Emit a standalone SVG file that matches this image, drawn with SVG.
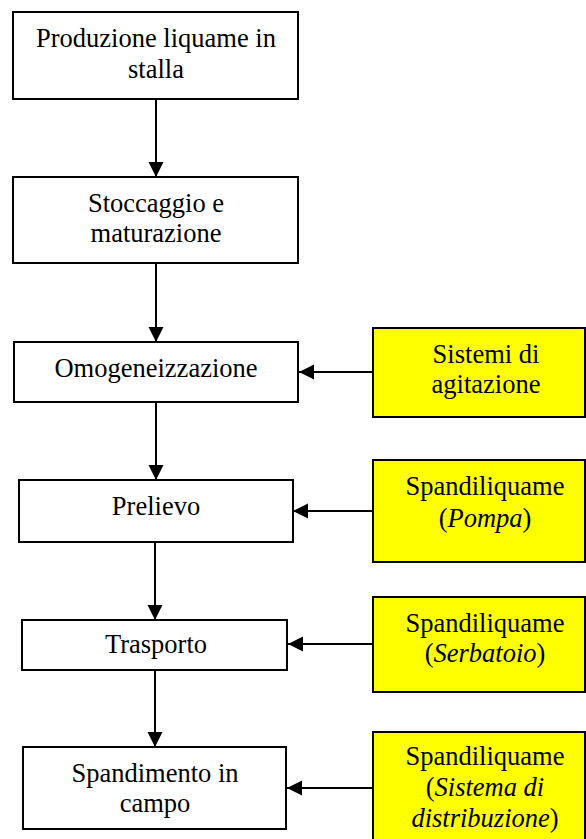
<svg xmlns="http://www.w3.org/2000/svg" width="586" height="839" viewBox="0 0 586 839">
<style>
  .box { fill: #ffffff; stroke: #000000; stroke-width: 2; }
  .ybox { fill: #ffff00; stroke: #000000; stroke-width: 2; }
  .t { font-size: 26.5px; fill: #000000; text-anchor: middle; }
  .i { font-style: italic; }
  .c { stroke: #000000; stroke-width: 2; fill: none; marker-end: url(#ah); }
</style>
<defs>
  <marker id="ah" markerUnits="userSpaceOnUse" markerWidth="16" markerHeight="16" viewBox="0 0 16 16" refX="15" refY="8" orient="auto">
    <path d="M0,0.5 L15,8 L0,15.5 Z" fill="#000000"/>
  </marker>
</defs>
<rect width="586" height="839" fill="#ffffff"/>

<g font-family="'Liberation Serif', 'Times New Roman', 'DejaVu Serif', serif">
<g id="n1">
  <rect class="box" x="13" y="12" width="285" height="87"/>
  <text class="t" x="156" y="47">Produzione liquame in</text>
  <text class="t" x="156" y="78">stalla</text>
</g>
<g id="n2">
  <rect class="box" x="13" y="177" width="285" height="86"/>
  <text class="t" x="156" y="212">Stoccaggio e</text>
  <text class="t" x="156" y="242">maturazione</text>
</g>
<g id="n3">
  <rect class="box" x="14" y="342" width="284" height="60"/>
  <text class="t" x="156" y="377">Omogeneizzazione</text>
</g>
<g id="n4">
  <rect class="box" x="19" y="480" width="274" height="62"/>
  <text class="t" x="156" y="515">Prelievo</text>
</g>
<g id="n5">
  <rect class="box" x="22" y="620" width="265" height="50"/>
  <text class="t" x="156" y="653">Trasporto</text>
</g>
<g id="n6">
  <rect class="box" x="23" y="747" width="263" height="82"/>
  <text class="t" x="155" y="782">Spandimento in</text>
  <text class="t" x="155" y="812">campo</text>
</g>

<g id="y1">
  <rect class="ybox" x="373" y="328" width="212" height="89"/>
  <text class="t" x="486" y="363">Sistemi di</text>
  <text class="t" x="486" y="393">agitazione</text>
</g>
<g id="y2">
  <rect class="ybox" x="373" y="460" width="212" height="102"/>
  <text class="t" x="485" y="495">Spandiliquame</text>
  <text class="t" x="485" y="527">(<tspan class="i">Pompa</tspan>)</text>
</g>
<g id="y3">
  <rect class="ybox" x="373" y="597" width="212" height="95"/>
  <text class="t" x="485" y="632">Spandiliquame</text>
  <text class="t" x="485" y="662">(<tspan class="i">Serbatoio</tspan>)</text>
</g>
<g id="y4">
  <rect class="ybox" x="373" y="732" width="212" height="115"/>
  <text class="t" x="485" y="765">Spandiliquame</text>
  <text class="t" x="485" y="796">(<tspan class="i">Sistema di</tspan></text>
  <text class="t" x="485" y="827"><tspan class="i">distribuzione</tspan>)</text>
</g>
</g>

<g id="connectors">
  <line class="c" x1="156" y1="99" x2="156" y2="177"/>
  <line class="c" x1="156" y1="263" x2="156" y2="342"/>
  <line class="c" x1="156" y1="402" x2="156" y2="480"/>
  <line class="c" x1="155" y1="542" x2="155" y2="620"/>
  <line class="c" x1="155" y1="670" x2="155" y2="747"/>
  <line class="c" x1="373" y1="372" x2="299" y2="372"/>
  <line class="c" x1="373" y1="511" x2="293" y2="511"/>
  <line class="c" x1="373" y1="644" x2="288" y2="644"/>
  <line class="c" x1="373" y1="788" x2="287" y2="788"/>
</g>
</svg>
